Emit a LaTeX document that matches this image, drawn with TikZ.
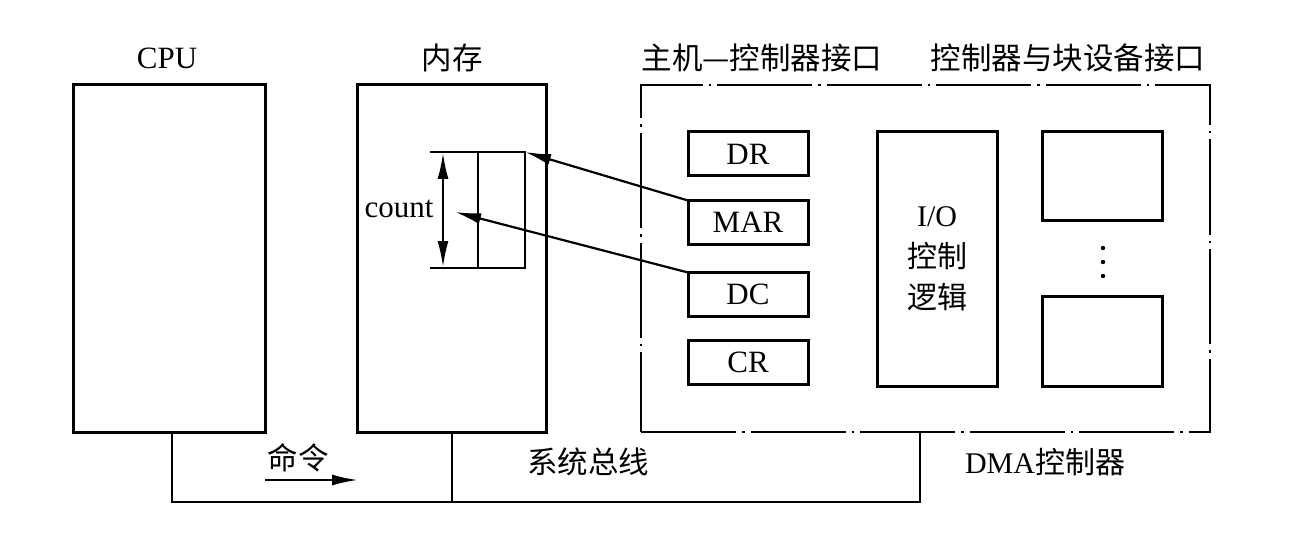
\documentclass[tikz,border=0pt]{standalone}
\usepackage{fontspec}
\setmainfont{Liberation Serif}
\newfontfamily\cjk{Noto Sans CJK SC}
\usetikzlibrary{arrows.meta}
\begin{document}
\begin{tikzpicture}[x=1pt,y=-1pt,
  box/.style={draw, line width=3pt, inner sep=0pt, outer sep=0pt},
  reg/.style={box, minimum width=120pt, minimum height=44pt, font=\fontsize{31}{32}\selectfont},
  thin/.style={line width=2pt},
  dashdot/.style={draw, line width=2pt, dash pattern=on 95pt off 6pt on 2.5pt off 6pt},
  lbl/.style={font=\fontsize{31}{32}\selectfont, inner sep=0pt},
  clbl/.style={font=\cjk\fontsize{30.5}{32}\selectfont, inner sep=0pt},
  arr/.style={-{Latex[length=26pt,width=11pt]}, line width=2.2pt}]
\useasboundingbox (0,0) rectangle (1316,540);
% main boxes
\node[box, minimum width=192pt, minimum height=347pt] (cpu) at (169,258.5) {};
\node[box, minimum width=189pt, minimum height=347pt] (mem) at (451.5,258.5) {};
\node[dashdot, minimum width=569pt, minimum height=347pt, inner sep=0pt, outer sep=0pt] (dma) at (925.5,258.5) {};
% titles
\node[lbl] (tcpu) at (167,58) {CPU};
\node[clbl] (tmem) at (452,58) {内存};
\node[clbl] (thost) at (762,58) {主机—控制器接口};
\node[clbl] (tdev) at (1068,58) {控制器与块设备接口};
% registers
\node[reg] (dr) at (748,154) {DR};
\node[reg] (mar) at (748,222.5) {MAR};
\node[reg] (dc) at (748,294.5) {DC};
\node[reg] (cr) at (748,362.5) {CR};
% I/O control logic
\node[box, minimum width=120pt, minimum height=254pt, align=center,
      font=\fontsize{30}{41}\selectfont] (io) at (937,259) {I/O\\{\cjk 控制}\\{\cjk 逻辑}};
% device interface boxes
\node[box, minimum width=120pt, minimum height=88pt] (d1) at (1102,176) {};
\node[box, minimum width=120pt, minimum height=90pt] (d2) at (1102,341) {};
\foreach \yy in {248,262,276} \fill (1103,\yy) circle (2.2pt);
% count block in memory
\node[draw, thin, minimum width=47pt, minimum height=116pt, inner sep=0pt, outer sep=0pt] (blk) at (501.5,210) {};
\coordinate (bl) at (430,152);
\coordinate (blb) at (430,268);
\draw[thin] (bl) -- (blk.north west);
\draw[thin] (blb) -- (blk.south west);
\coordinate (ct) at (443,153);
\coordinate (cb) at (443,267);
\draw[{Latex[length=26pt,width=11pt]}-{Latex[length=26pt,width=11pt]}, line width=2pt] (ct) -- (cb);
\node[lbl] (count) at (399,209) {count};
% arrows from registers
\draw[arr] (mar.north west) -- (blk.north east);
\coordinate (cnt) at (455,212);
\draw[arr] (dc.north west) -- (cnt);
% system bus
\coordinate (b1) at (172,502);
\coordinate (b2) at (451.5,502);
\coordinate (b3) at (920,502);
\draw[line width=2pt] (cpu.south -| b1) -- (b1) -- (b3) -- (dma.south -| b3);
\draw[line width=2pt] (mem.south) -- (b2);
% labels on bus
\node[clbl] (cmd) at (298,458) {命令};
\coordinate (ca) at (265,480);
\coordinate (cz) at (358,480);
\draw[arr] (ca) -- (cz);
\node[clbl] (sysbus) at (588,462) {系统总线};
\node[font=\fontsize{30}{32}\selectfont, inner sep=0pt] (dmac) at (1045,462) {DMA{\cjk 控制器}};
\end{tikzpicture}
\end{document}
